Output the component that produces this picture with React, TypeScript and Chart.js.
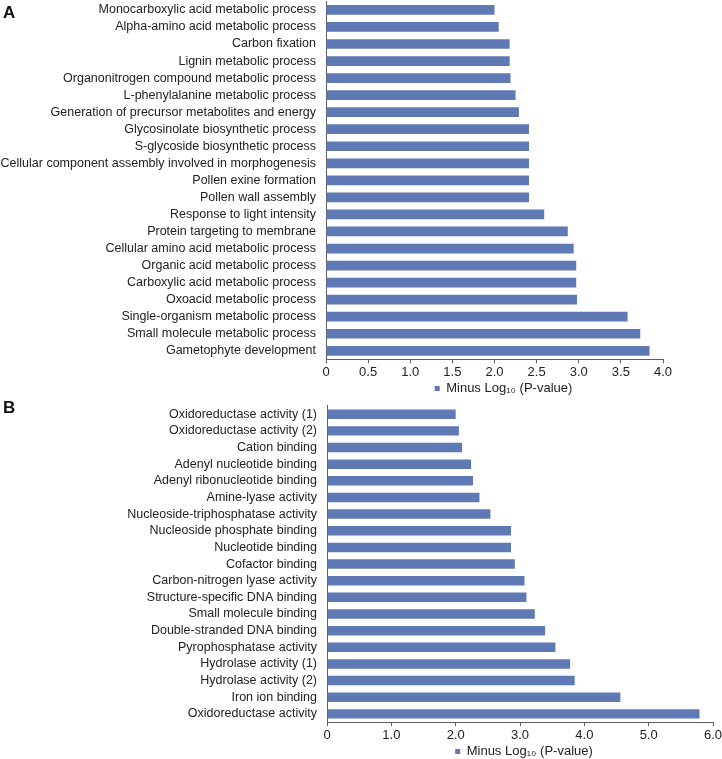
import React, { useEffect, useRef } from 'react';
import { Chart, registerables } from 'chart.js';

Chart.register(...registerables);

const categoriesA = [
  'Monocarboxylic acid metabolic process',
  'Alpha-amino acid metabolic process',
  'Carbon fixation',
  'Lignin metabolic process',
  'Organonitrogen compound metabolic process',
  'L-phenylalanine metabolic process',
  'Generation of precursor metabolites and energy',
  'Glycosinolate biosynthetic process',
  'S-glycoside biosynthetic process',
  'Cellular component assembly involved in morphogenesis',
  'Pollen exine formation',
  'Pollen wall assembly',
  'Response to light intensity',
  'Protein targeting to membrane',
  'Cellular amino acid metabolic process',
  'Organic acid metabolic process',
  'Carboxylic acid metabolic process',
  'Oxoacid metabolic process',
  'Single-organism metabolic process',
  'Small molecule metabolic process',
  'Gametophyte development',
];
const valuesA = [
  2.0, 2.05, 2.18, 2.18, 2.19, 2.25, 2.29, 2.41, 2.41, 2.41, 2.41, 2.41,
  2.59, 2.87, 2.94, 2.97, 2.97, 2.98, 3.58, 3.73, 3.84,
];

const categoriesB = [
  'Oxidoreductase activity (1)',
  'Oxidoreductase activity (2)',
  'Cation binding',
  'Adenyl nucleotide binding',
  'Adenyl ribonucleotide binding',
  'Amine-lyase activity',
  'Nucleoside-triphosphatase activity',
  'Nucleoside phosphate binding',
  'Nucleotide binding',
  'Cofactor binding',
  'Carbon-nitrogen lyase activity',
  'Structure-specific DNA binding',
  'Small molecule binding',
  'Double-stranded DNA binding',
  'Pyrophosphatase activity',
  'Hydrolase activity (1)',
  'Hydrolase activity (2)',
  'Iron ion binding',
  'Oxidoreductase activity',
];
const valuesB = [
  2.0, 2.05, 2.1, 2.24, 2.27, 2.37, 2.54, 2.86, 2.86, 2.92, 3.07, 3.1,
  3.23, 3.39, 3.55, 3.78, 3.85, 4.56, 5.79,
];

const axisMaxA = 4;
const axisStepA = 0.5;
const axisMaxB = 6;
const axisStepB = 1;
const seriesLabel = 'Minus Log\u2081\u2080 (P-value)';

const BAR_COLOR = '#5f79b4';
const AXIS_COLOR = '#5e5e5e';
const TEXT_COLOR = '#222222';
const FONT = '"Liberation Sans", Arial, Helvetica, sans-serif';

const legendUnderPlot = {
  id: 'legendUnderPlot',
  afterLayout(chart: any) {
    const l = chart.legend;
    const ca = chart.chartArea;
    if (!l || !ca) return;
    const off = chart.options.plugins.legendUnderPlot?.offset ?? 0;
    const w = l.right - l.left;
    const c = (ca.left + ca.right) / 2 + off;
    l.left = c - w / 2;
    l.right = c + w / 2;
  },
};

type PanelProps = {
  categories: string[];
  values: number[];
  max: number;
  step: number;
  top: number;
  height: number;
  padTop: number;
  xHeight: number;
  yWidth: number;
  rightEdge: number;
  labelSize: number;
  legendOffset: number;
};

function BarPanel(p: PanelProps) {
  const ref = useRef<HTMLCanvasElement | null>(null);
  useEffect(() => {
    if (!ref.current) return;
    const chart = new Chart(ref.current, {
      type: 'bar',
      data: {
        labels: p.categories,
        datasets: [
          {
            label: seriesLabel,
            data: p.values,
            backgroundColor: BAR_COLOR,
            borderWidth: 0,
            barPercentage: 0.57,
            categoryPercentage: 1,
          },
        ],
      },
      options: {
        indexAxis: 'y',
        animation: false,
        responsive: false,
        maintainAspectRatio: false,
        devicePixelRatio: 1,
        layout: { padding: { top: p.padTop, right: 722 - p.rightEdge, left: 0, bottom: 0 } },
        scales: {
          x: {
            min: 0,
            max: p.max,
            ticks: {
              stepSize: p.step,
              autoSkip: false,
              maxRotation: 0,
              padding: 1,
              color: TEXT_COLOR,
              font: { family: FONT, size: 13 },
              callback: (v: any) => (Number(v) === 0 ? '0' : Number(v).toFixed(1)),
            },
            grid: {
              display: true,
              drawOnChartArea: false,
              drawTicks: true,
              tickLength: 4,
              color: AXIS_COLOR,
            },
            border: { display: true, color: AXIS_COLOR, width: 1 },
            afterFit: (s: any) => {
              s.height = p.xHeight;
              s.paddingLeft = 0;
              s.paddingRight = 0;
            },
          },
          y: {
            ticks: {
              autoSkip: false,
              padding: 10,
              color: TEXT_COLOR,
              font: { family: FONT, size: p.labelSize },
            },
            grid: { display: false, drawTicks: false },
            border: { display: true, color: AXIS_COLOR, width: 1 },
            afterFit: (s: any) => {
              s.width = p.yWidth;
              s.paddingTop = 0;
              s.paddingBottom = 0;
            },
          },
        },
        plugins: {
          legend: {
            position: 'bottom',
            labels: {
              boxWidth: 5,
              boxHeight: 5,
              padding: 0,
              color: TEXT_COLOR,
              font: { family: FONT, size: 13 },
            },
          },
          tooltip: { enabled: false },
          legendUnderPlot: { offset: p.legendOffset },
        } as any,
      },
      plugins: [legendUnderPlot],
    });
    return () => chart.destroy();
  }, []);
  return (
    <canvas
      ref={ref}
      width={722}
      height={p.height}
      style={{ position: 'absolute', left: 0, top: p.top, width: 722, height: p.height }}
    />
  );
}

const panelLetter: React.CSSProperties = {
  position: 'absolute',
  fontFamily: FONT,
  fontWeight: 'bold',
  fontSize: 17,
  lineHeight: '17px',
  color: '#111',
};

export default function App() {
  return (
    <div
      style={{
        position: 'absolute',
        left: 0,
        top: 0,
        width: 722,
        height: 759,
        overflow: 'hidden',
        background: '#ffffff',
      }}
    >
      <BarPanel
        categories={categoriesA}
        values={valuesA}
        max={axisMaxA}
        step={axisStepA}
        top={0}
        height={405}
        padTop={1.4}
        xHeight={22.7}
        yWidth={326}
        rightEdge={663}
        labelSize={12.5}
        legendOffset={9}
      />
      <BarPanel
        categories={categoriesB}
        values={valuesB}
        max={axisMaxB}
        step={axisStepB}
        top={398}
        height={370}
        padTop={7.9}
        xHeight={22.8}
        yWidth={327}
        rightEdge={713}
        labelSize={12.5}
        legendOffset={4}
      />
      <div style={{ ...panelLetter, left: 3, top: 4 }}>A</div>
      <div style={{ ...panelLetter, left: 3, top: 399 }}>B</div>
    </div>
  );
}
